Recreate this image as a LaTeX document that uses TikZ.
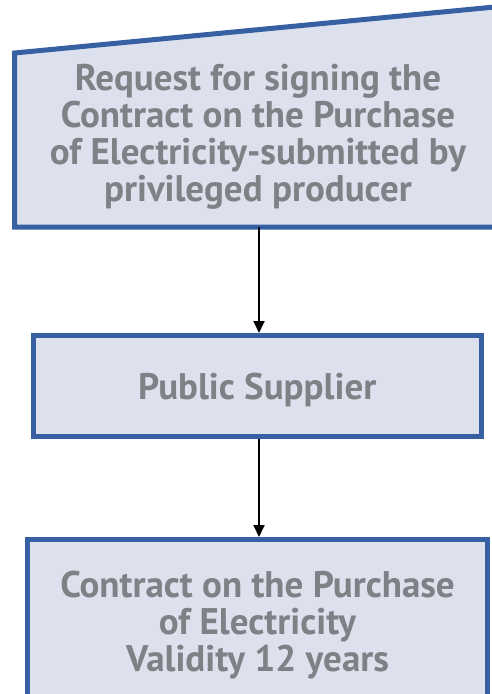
\documentclass[tikz,border=0pt]{standalone}
\usepackage{fontspec}
\setmainfont{PT Sans}
\usepackage{tikz}
\usetikzlibrary
  {
    arrows.meta,              % triangle arrow heads
    positioning,              % place nodes relative to other nodes
    calc,
  }

\definecolor{boxblue}{RGB}{54,96,162}
\definecolor{boxfill}{RGB}{220,225,237}
\definecolor{boxtext}{RGB}{126,129,133}

\begin{document}
\begin{tikzpicture}
    [
      x=1pt,
      y=-1pt,
      font=\fontsize{37}{37}\selectfont\bfseries,
      process/.style=
        {
          rectangle,
          line width=5pt,
          draw=boxblue,
          fill=boxfill,
          text=boxtext,
          align=center,
        },
      flow/.style=
        {
          line width=1.8pt,
          -{Triangle[width=11pt,length=12pt]},
        }
    ]
    \useasboundingbox (0,0) rectangle (492,694);
    \clip (0,0) rectangle (492,694);

    % manual input shape
    \draw [line width=5pt, draw=boxblue, fill=boxfill]
      (14.5,53) -- (505,6) -- (505,227) -- (14.5,227) -- cycle;
    \node (request) [text=boxtext, align=center] at (258,137)
      {Request for signing the\\
       Contract on the Purchase\\
       of Electricity-submitted by\\
       privileged producer};
    \coordinate (reqbot) at (259,227);

    \node (supplier) [process, text depth=0pt,
                      minimum width=447.5pt, minimum height=101pt]
      at (257.25,386) {Public Supplier};
    \node (contract) [process, minimum width=460pt, minimum height=171pt]
      at (257.5,625)
      {Contract on the Purchase\\
       of Electricity\\
       Validity 12 years};

    \draw [flow] (reqbot) -- (reqbot |- supplier.north);
    \draw [flow] (reqbot |- supplier.south) -- (reqbot |- contract.north);
  \end{tikzpicture}
\end{document}
